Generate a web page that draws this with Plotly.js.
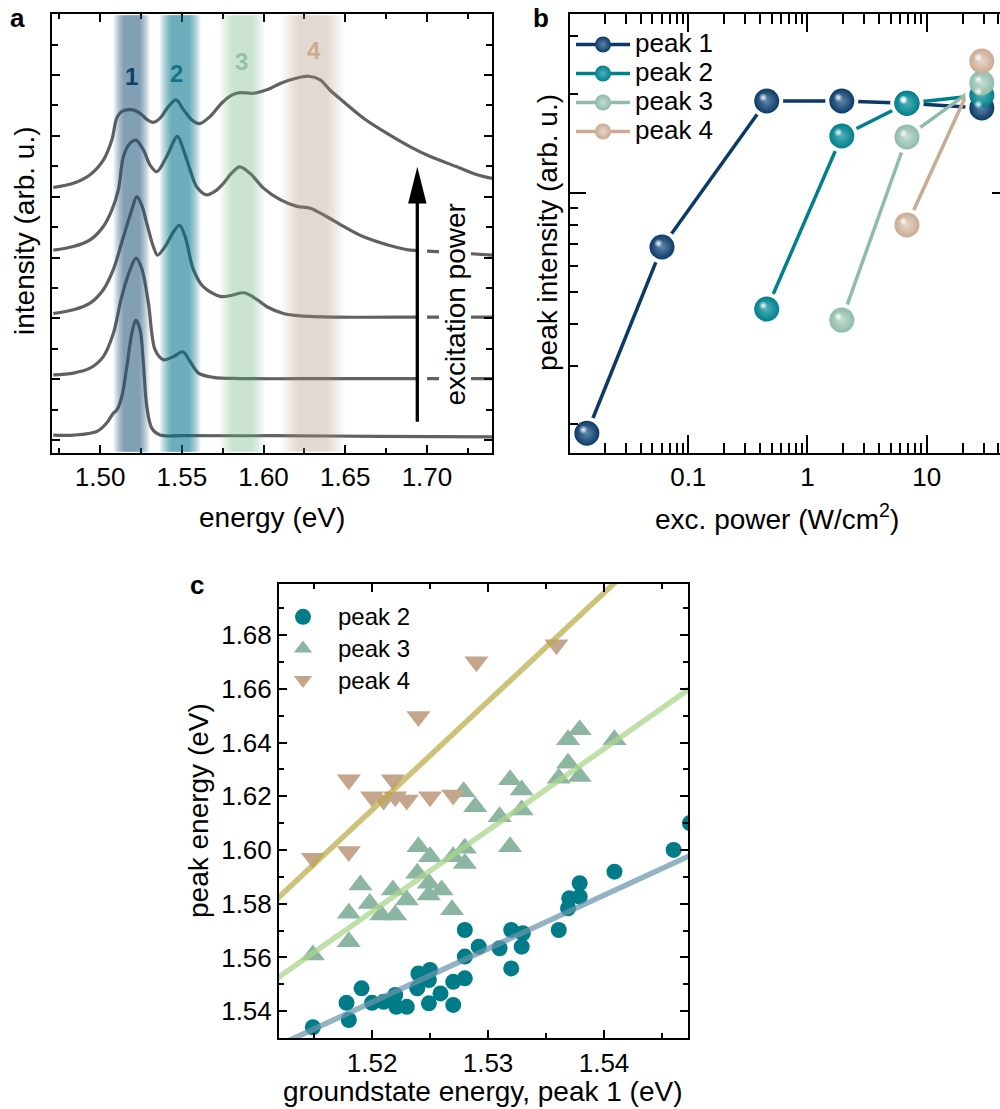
<!DOCTYPE html>
<html>
<head>
<meta charset="utf-8">
<script src="https://cdn.plot.ly/plotly-3.0.1.min.js"></script>
<style>
  html, body { margin: 0; padding: 0; overflow: hidden; background: #fff; }
  #fig { width: 1010px; height: 1109px; }
</style>
</head>
<body>
<div id="fig"></div>
<script>
// ---------- panel a: PL spectra, lowest excitation power first ----------
const spec1E = [1.4714, 1.4837, 1.4980, 1.5041, 1.5081, 1.5102, 1.5133, 1.5164, 1.5194, 1.5219, 1.5245, 1.5265, 1.5286, 1.5317, 1.5367, 1.5500, 1.6041, 1.6700, 1.7398];
const spec1I = [0.08, 0.08, 0.14, 0.28, 0.44, 0.49, 0.71, 1.21, 1.75, 1.97, 1.81, 1.26, 0.55, 0.19, 0.08, 0.07, 0.07, 0.06, 0.05];

const spec2E = [1.4714, 1.4837, 1.4939, 1.5020, 1.5081, 1.5133, 1.5184, 1.5220, 1.5255, 1.5296, 1.5337, 1.5388, 1.5449, 1.5506, 1.5551, 1.5602, 1.5694, 1.5857, 1.6500, 1.7398];
const spec2I = [1.07, 1.10, 1.18, 1.37, 1.75, 2.36, 2.80, 2.99, 2.82, 2.25, 1.48, 1.32, 1.37, 1.45, 1.29, 1.10, 1.03, 1.01, 1.01, 1.01];

const spec3E = [1.4714, 1.4837, 1.4939, 1.5020, 1.5081, 1.5143, 1.5194, 1.5225, 1.5255, 1.5286, 1.5326, 1.5351, 1.5398, 1.5449, 1.5486, 1.5521, 1.5571, 1.5631, 1.5735, 1.5808, 1.5878, 1.5937, 1.5980, 1.6021, 1.6122, 1.6225, 1.6427, 1.7000, 1.7398];
const spec3I = [2.08, 2.14, 2.25, 2.47, 2.80, 3.34, 3.78, 4.00, 3.86, 3.56, 3.18, 3.04, 3.18, 3.42, 3.53, 3.34, 2.80, 2.52, 2.36, 2.38, 2.42, 2.35, 2.27, 2.19, 2.08, 2.04, 2.02, 2.02, 2.02];

const spec4E = [1.4714, 1.4837, 1.4939, 1.5020, 1.5072, 1.5112, 1.5143, 1.5184, 1.5220, 1.5265, 1.5306, 1.5347, 1.5408, 1.5473, 1.5510, 1.5551, 1.5592, 1.5653, 1.5704, 1.5755, 1.5806, 1.5854, 1.5919, 1.6000, 1.6102, 1.6205, 1.6286, 1.6388, 1.6490, 1.6612, 1.6756, 1.6898, 1.6980, 1.7225, 1.7398];
const spec4I = [3.12, 3.18, 3.29, 3.51, 3.78, 4.11, 4.66, 4.88, 4.93, 4.77, 4.52, 4.41, 4.66, 4.99, 4.77, 4.44, 4.16, 4.03, 4.09, 4.22, 4.39, 4.49, 4.38, 4.14, 3.95, 3.84, 3.81, 3.67, 3.51, 3.34, 3.21, 3.12, 3.11, 3.07, 3.04];

const spec5E = [1.4714, 1.4837, 1.4939, 1.5020, 1.5072, 1.5102, 1.5133, 1.5194, 1.5245, 1.5286, 1.5326, 1.5367, 1.5418, 1.5465, 1.5510, 1.5562, 1.5608, 1.5674, 1.5745, 1.5806, 1.5857, 1.5939, 1.6041, 1.6102, 1.6205, 1.6276, 1.6347, 1.6408, 1.6490, 1.6612, 1.6756, 1.6898, 1.7021, 1.7184, 1.7307, 1.7398];
const spec5I = [4.15, 4.22, 4.36, 4.60, 4.93, 5.29, 5.40, 5.43, 5.37, 5.27, 5.22, 5.29, 5.48, 5.59, 5.43, 5.26, 5.20, 5.32, 5.54, 5.67, 5.71, 5.70, 5.78, 5.86, 5.95, 5.98, 5.92, 5.75, 5.56, 5.29, 5.04, 4.82, 4.66, 4.49, 4.36, 4.30];

// emission lines marked by shaded bands
const peakNames   = ['1', '2', '3', '4'];
const bandCenters = [1.5193, 1.5490, 1.5870, 1.6300];

// ---------- panel b: integrated peak intensity vs excitation power ----------
const powerB = [0.0141, 0.0602, 0.455, 1.94, 6.83, 29.0];
const peak1I = [0.187, 0.686, 1.90, 1.90, 1.87, 1.81];
const peak2I = [null, null, 0.445, 1.488, 1.87, 1.98];
const peak3I = [null, null, null, 0.412, 1.478, 2.155];
const peak4I = [null, null, null, null, 0.80, 2.51];

// ---------- panel c: excited-state energies vs ground-state energy ----------
const p2X = [1.5149, 1.5180, 1.5178, 1.5191, 1.5200, 1.5210, 1.5220, 1.5221, 1.5230, 1.5240, 1.5239, 1.5250, 1.5249, 1.5249, 1.5259, 1.5270, 1.5270, 1.5280, 1.5280, 1.5280, 1.5292, 1.5310, 1.5320, 1.5320, 1.5330, 1.5329, 1.5361, 1.5369, 1.5370, 1.5379, 1.5379, 1.5409, 1.5460, 1.5474];
const p2Y = [1.5340, 1.5367, 1.5431, 1.5485, 1.5431, 1.5435, 1.5460, 1.5416, 1.5416, 1.5540, 1.5485, 1.5553, 1.5516, 1.5429, 1.5466, 1.5423, 1.5509, 1.5522, 1.5603, 1.5702, 1.5640, 1.5634, 1.5559, 1.5702, 1.5690, 1.5640, 1.5702, 1.5783, 1.5820, 1.5826, 1.5876, 1.5919, 1.6000, 1.6100];

const p3X = [1.5149, 1.5180, 1.5180, 1.5190, 1.5198, 1.5208, 1.5218, 1.5220, 1.5230, 1.5239, 1.5240, 1.5250, 1.5249, 1.5249, 1.5260, 1.5269, 1.5270, 1.5280, 1.5280, 1.5279, 1.5289, 1.5310, 1.5319, 1.5329, 1.5329, 1.5319, 1.5361, 1.5369, 1.5369, 1.5379, 1.5379, 1.5409];
const p3Y = [1.5609, 1.5658, 1.5764, 1.5870, 1.5801, 1.5758, 1.5851, 1.5758, 1.5814, 1.5913, 1.6012, 1.5975, 1.5876, 1.5832, 1.5851, 1.5777, 1.5975, 1.5950, 1.6006, 1.6217, 1.6161, 1.6124, 1.6261, 1.6223, 1.6149, 1.6012, 1.6267, 1.6323, 1.6410, 1.6447, 1.6273, 1.6410];

const p4X = [1.5149, 1.5180, 1.5180, 1.5200, 1.5210, 1.5218, 1.5220, 1.5230, 1.5250, 1.5270, 1.5240, 1.5290, 1.5359];
const p4Y = [1.5969, 1.5994, 1.6261, 1.6198, 1.6186, 1.6261, 1.6198, 1.6186, 1.6198, 1.6205, 1.6497, 1.6701, 1.6764];

// linear fits (peak 2, 3, 4): value at x = 1.512 and slope
const fitX0 = 1.512;
const fitIntercepts = [1.5274, 1.5528, 1.5826];
const fitSlopes = [1.99, 3.03, 4.04];

// ---------- page geometry ----------
const W = 1010, H = 1109;
const fx = p => p / W;        // pixel column -> paper x
const fy = p => 1 - p / H;    // pixel row -> paper y
const FONT = 'Liberation Sans, Arial, Helvetica, sans-serif';

// ---------- colours ----------
const specColor = 'rgb(96,96,96)';
const bandColors = ['rgb(40,85,130)', 'rgb(0,120,140)', 'rgb(120,175,145)', 'rgb(190,150,115)'];
const bandStrength = [0.55, 0.56, 0.36, 0.32];
const bandHalfWidths = [0.0110, 0.0125, 0.0140, 0.0195];
const labelColors = ['rgb(18,62,104)', 'rgb(18,118,134)', 'rgb(150,192,172)', 'rgb(202,172,144)'];

const ballColors = ['#0b3a66', '#00808c', '#8fbba8', '#c9ab93'];
const ballCenters = ['#5d86aa', '#4fb0b8', '#c4ddd2', '#e6d6c8'];

const c2 = '#007c88', c3 = '#8cb5a2', c4 = '#c4a68c';
const fitColors = ['rgba(105,148,172,0.72)', 'rgba(170,215,140,0.75)', 'rgba(185,170,70,0.72)'];

const traces = [];

// panel a spectra
[[spec1E, spec1I], [spec2E, spec2I], [spec3E, spec3I], [spec4E, spec4I], [spec5E, spec5I]].forEach(([e, i]) => {
  traces.push({
    type: 'scatter', mode: 'lines', x: e, y: i, xaxis: 'x', yaxis: 'y',
    line: { color: specColor, width: 3.2, shape: 'spline', smoothing: 0.9 },
    showlegend: false, hoverinfo: 'skip'
  });
});

// panel b: connecting lines, white gaps around the balls, then the balls
const peakSeries = [peak1I, peak2I, peak3I, peak4I];
peakSeries.forEach((ys, k) => {
  traces.push({
    type: 'scatter', mode: 'lines', x: powerB, y: ys, xaxis: 'x2', yaxis: 'y2',
    line: { color: ballColors[k], width: 3.5 }, showlegend: false, hoverinfo: 'skip'
  });
});
peakSeries.forEach((ys) => {
  traces.push({
    type: 'scatter', mode: 'markers', x: powerB, y: ys, xaxis: 'x2', yaxis: 'y2',
    marker: { size: 33, color: 'white', line: { width: 0 } }, showlegend: false, hoverinfo: 'skip'
  });
});
peakSeries.forEach((ys, k) => {
  traces.push({
    type: 'scatter', mode: 'markers', x: powerB, y: ys, xaxis: 'x2', yaxis: 'y2',
    marker: { size: 25, color: ballColors[k], line: { width: 0 },
              gradient: { type: 'radial', color: ballCenters[k] } },
    showlegend: false, hoverinfo: 'skip'
  });
});
// specular highlights, on an overlay axis pair shifted a few pixels up-left
peakSeries.forEach((ys, k) => {
  traces.push({
    type: 'scatter', mode: 'markers', x: powerB, y: ys, xaxis: 'x4', yaxis: 'y4',
    marker: { size: 9, color: 'rgba(255,255,255,0)', line: { width: 0 },
              gradient: { type: 'radial', color: 'rgba(255,255,255,0.95)' } },
    showlegend: false, hoverinfo: 'skip'
  });
});
// legend keys for panel b
peakSeries.forEach((ys, k) => {
  traces.push({
    type: 'scatter', mode: 'lines+markers', x: [null], y: [null], xaxis: 'x2', yaxis: 'y2',
    name: '<span style="font-size:26px">peak ' + (k + 1) + '</span>',
    line: { color: ballColors[k], width: 3.5 },
    marker: { size: 16, color: ballColors[k], gradient: { type: 'radial', color: ballCenters[k] } },
    legend: 'legend', hoverinfo: 'skip'
  });
});

// panel c scatter
traces.push({
  type: 'scatter', mode: 'markers', x: p2X, y: p2Y, xaxis: 'x3', yaxis: 'y3',
  name: '<span style="font-size:24px">peak 2</span>', legend: 'legend2',
  marker: { symbol: 'circle', size: 16, color: c2 }, hoverinfo: 'skip'
});
traces.push({
  type: 'scatter', mode: 'markers', x: p3X, y: p3Y, xaxis: 'x3', yaxis: 'y3',
  name: '<span style="font-size:24px">peak 3</span>', legend: 'legend2',
  marker: { symbol: 'triangle-up', size: 21, color: c3 }, hoverinfo: 'skip'
});
traces.push({
  type: 'scatter', mode: 'markers', x: p4X, y: p4Y, xaxis: 'x3', yaxis: 'y3',
  name: '<span style="font-size:24px">peak 4</span>', legend: 'legend2',
  marker: { symbol: 'triangle-down', size: 21, color: c4 }, hoverinfo: 'skip'
});
// fit lines across the panel
const xc = [1.511, 1.548];
fitSlopes.forEach((m, k) => {
  traces.push({
    type: 'scatter', mode: 'lines', xaxis: 'x3', yaxis: 'y3',
    x: xc, y: xc.map(x => fitIntercepts[k] + m * (x - fitX0)),
    line: { color: fitColors[k], width: 5.5 }, showlegend: false, hoverinfo: 'skip'
  });
});

// ---------- shapes ----------
const shapes = [];
// each band: a stack of thin translucent rectangles, giving a soft-edged stripe
const nSteps = 10;
const steps = Array.from({ length: nSteps }, (_, j) => 1 - 0.55 * j / (nSteps - 1));
bandCenters.forEach((c, k) => {
  const a = 1 - Math.pow(1 - bandStrength[k], 1 / nSteps);
  steps.forEach(f => {
    shapes.push({
      type: 'rect', xref: 'x', yref: 'y domain', layer: 'above',
      x0: c - bandHalfWidths[k] * f, x1: c + bandHalfWidths[k] * f, y0: 0.003, y1: 0.997,
      fillcolor: bandColors[k], opacity: a, line: { width: 0 }
    });
  });
});
// excitation-power arrow with a white margin on its right
shapes.push({ type: 'rect', xref: 'paper', yref: 'paper', layer: 'above',
  x0: fx(419), x1: fx(427), y0: fy(421.7), y1: fy(203), fillcolor: 'white', line: { width: 0 } });
shapes.push({ type: 'line', xref: 'paper', yref: 'paper', layer: 'above',
  x0: fx(417.3), x1: fx(417.3), y0: fy(421.7), y1: fy(200), line: { color: 'black', width: 3.3 } });
shapes.push({ type: 'path', xref: 'paper', yref: 'paper', layer: 'above',
  path: `M ${fx(417.3)} ${fy(166.7)} L ${fx(426.5)} ${fy(203.5)} L ${fx(408.1)} ${fy(203.5)} Z`,
  fillcolor: 'black', line: { width: 0 } });

// ---------- annotations ----------
const ann = [];
const txt = (text, x, y, size, extra) => Object.assign({
  text, x: fx(x), y: fy(y), xref: 'paper', yref: 'paper', showarrow: false,
  xanchor: 'center', yanchor: 'middle', font: { family: FONT, size, color: 'black' }
}, extra || {});
ann.push(txt('<b>a</b>', 17, 18, 26));
ann.push(txt('<b>b</b>', 541, 18, 26));
ann.push(txt('<b>c</b>', 197, 585, 26));
ann.push(txt('energy (eV)', 272, 517, 28));
ann.push(txt('intensity (arb. u.)', 25, 231, 28, { textangle: -90 }));
ann.push(txt('exc. power (W/cm<sup>2</sup>)', 777, 517, 28));
ann.push(txt('peak intensity (arb. u.)', 548, 233, 28, { textangle: -90 }));
ann.push(txt('peak energy (eV)', 198, 811, 28, { textangle: -90 }));
ann.push(txt('groundstate energy, peak 1 (eV)', 483, 1091, 28));
ann.push(txt('excitation power', 455, 304.5, 28, { textangle: -90, bgcolor: 'white', borderpad: 0 }));
// peak labels over the bands
const labelY = [5.97, 6.02, 6.22, 6.41];
const labelX = [1.5193, 1.5470, 1.5868, 1.6306];
peakNames.forEach((n, k) => {
  ann.push({ text: '<b>' + n + '</b>', x: labelX[k], y: labelY[k], xref: 'x', yref: 'y',
    showarrow: false, font: { family: FONT, size: 24, color: labelColors[k] } });
});

// ---------- axes ----------
const axBase = {
  showline: true, linecolor: 'black', linewidth: 2, mirror: 'ticks',
  ticks: 'inside', tickwidth: 2, tickcolor: 'black', showgrid: false, zeroline: false,
  tickfont: { family: FONT, size: 26, color: 'black' }, fixedrange: true
};
const ax = o => Object.assign({}, axBase, o);

const decadeMinor = [0.02, 0.03, 0.04, 0.05, 0.06, 0.07, 0.08, 0.09,
                     0.2, 0.3, 0.4, 0.5, 0.6, 0.7, 0.8, 0.9,
                     2, 3, 4, 5, 6, 7, 8, 9, 20, 30, 40];
const yMinorB = [0.2, 0.3, 0.4, 0.5, 0.6, 0.7, 0.8, 0.9, 2, 3];
const bRangeX = [-1.992, 1.682], bRangeY = [-0.788, 0.5424];
const dxHi = 3.5 / 119.2, dyHi = 3.5 / 330;

const layout = {
  width: W, height: H, margin: { l: 0, r: 0, t: 0, b: 0 },
  paper_bgcolor: 'white', plot_bgcolor: 'rgba(0,0,0,0)',
  font: { family: FONT, color: 'black' },
  xaxis: ax({ domain: [fx(52), fx(492)], anchor: 'y', range: [1.4706, 1.7398],
    tick0: 1.5, dtick: 0.05, tickformat: '.2f', ticklen: 8,
    minor: { ticks: 'inside', ticklen: 5, tickwidth: 2, tickcolor: 'black', tick0: 1.5, dtick: 0.025 } }),
  yaxis: ax({ domain: [fy(453), fy(14)], anchor: 'x', range: [-0.214, 7.003],
    tick0: 0, dtick: 1, showticklabels: false, ticklen: 8,
    minor: { ticks: 'inside', ticklen: 6, tickwidth: 2, tickcolor: 'black', tick0: 0, dtick: 0.5 } }),
  xaxis2: ax({ domain: [fx(570), fx(1008)], anchor: 'y2', type: 'log', range: bRangeX,
    tickmode: 'array', tickvals: [0.1, 1, 10], ticktext: ['0.1', '1', '10'], ticklen: 18,
    minor: { ticks: 'inside', ticklen: 10, tickwidth: 2, tickcolor: 'black', tickmode: 'array', tickvals: decadeMinor } }),
  yaxis2: ax({ domain: [fy(453), fy(14)], anchor: 'x2', type: 'log', range: bRangeY,
    tickmode: 'array', tickvals: [1], showticklabels: false, ticklen: 16,
    minor: { ticks: 'inside', ticklen: 8, tickwidth: 2, tickcolor: 'black', tickmode: 'array', tickvals: yMinorB } }),
  xaxis4: { overlaying: 'x2', anchor: 'y4', type: 'log', range: [bRangeX[0] + dxHi, bRangeX[1] + dxHi], visible: false, fixedrange: true },
  yaxis4: { overlaying: 'y2', anchor: 'x4', type: 'log', range: [bRangeY[0] - dyHi, bRangeY[1] - dyHi], visible: false, fixedrange: true },
  xaxis3: ax({ domain: [fx(279), fx(688)], anchor: 'y3', range: [1.51198, 1.54724],
    tick0: 1.52, dtick: 0.01, tickformat: '.2f', ticklen: 8, ticklabelstandoff: 1,
    minor: { ticks: 'inside', ticklen: 5, tickwidth: 2, tickcolor: 'black', tick0: 1.52, dtick: 0.005 } }),
  yaxis3: ax({ domain: [fy(1038), fy(584)], anchor: 'x3', range: [1.5300, 1.6990],
    tick0: 1.54, dtick: 0.02, tickformat: '.2f', ticklen: 8,
    minor: { ticks: 'inside', ticklen: 5, tickwidth: 2, tickcolor: 'black', tick0: 1.54, dtick: 0.01 } }),
  legend: { x: fx(571), y: fy(25), xanchor: 'left', yanchor: 'top', bgcolor: 'rgba(0,0,0,0)',
    borderwidth: 0, itemwidth: 54, font: { family: FONT, size: 20, color: 'black' }, tracegroupgap: 0 },
  legend2: { x: fx(268), y: fy(596), xanchor: 'left', yanchor: 'top', bgcolor: 'rgba(0,0,0,0)',
    borderwidth: 0, itemwidth: 60, font: { family: FONT, size: 22, color: 'black' }, tracegroupgap: 0 },
  shapes, annotations: ann, showlegend: true
};

Plotly.newPlot('fig', traces, layout, { staticPlot: true, displayModeBar: false });
</script>
</body>
</html>
